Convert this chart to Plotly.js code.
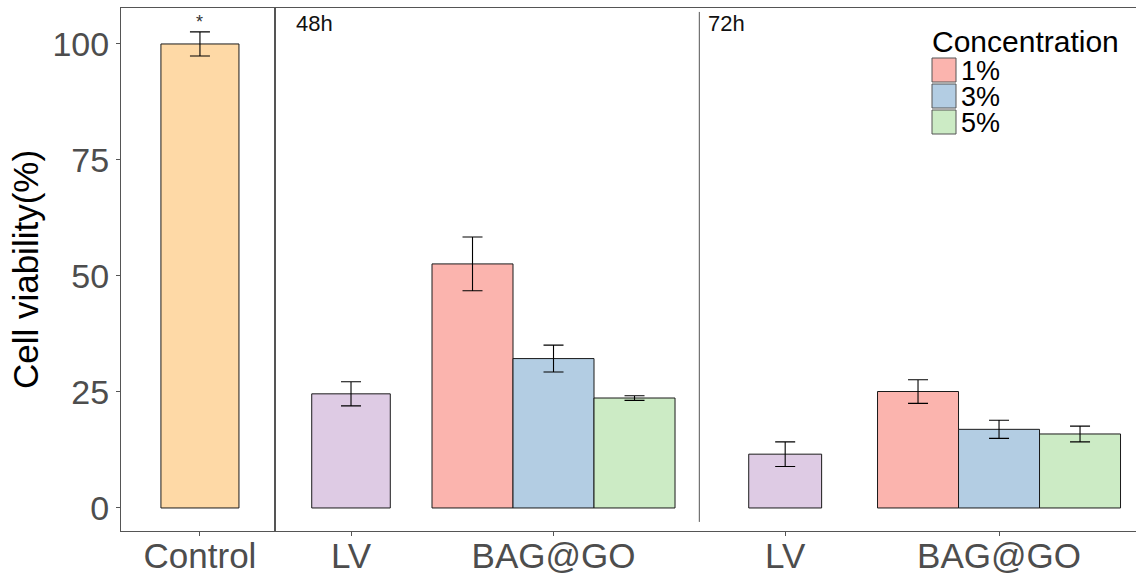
<!DOCTYPE html>
<html>
<head>
<meta charset="utf-8">
<script src="https://cdn.plot.ly/plotly-3.0.1.min.js"></script>
<style>html,body{margin:0;padding:0;background:#fff;}#chart{width:1136px;height:576px;}</style>
</head>
<body>
<div id="chart"></div>
<script>
// ---- data ----
const controlLabel = ['Control'];
const controlMean = [100];
const controlSD = [2.6];

const timeLabels = ['48h', '72h'];
const groupLabels = ['LV', 'BAG@GO', 'LV', 'BAG@GO'];

const lvMean = [24.6, 11.6];
const lvSD = [2.6, 2.65];

const concentrations = ['1%', '3%', '5%'];
const bagMean1 = [52.6, 25.1];
const bagSD1 = [5.8, 2.55];
const bagMean3 = [32.2, 16.95];
const bagSD3 = [2.9, 1.95];
const bagMean5 = [23.7, 15.95];
const bagSD5 = [0.5, 1.7];

const yTicks = [0, 25, 50, 75, 100];

// ---- layout constants (positions / styles) ----
const W = 1136, H = 576;
const L = 121, R = 0, T = 8, B = 45;
const PW = W - L - R, PH = H - T - B;
const px2paperX = p => (p - L) / PW;
const px2paperY = p => (H - B - p) / PH;

const lvPos = [0, 5.36];      // x positions of LV groups on panel-2 axis
const bagPos = [2.5, 8.0];    // x positions of BAG@GO groups
const concOffset = [-1, 0, 1];
const lvWidth = [0.97, 0.9];
const sepX = 4.3;

const colControl = '#FED9A6';
const colLV = '#DECBE4';
const concColors = ['#FBB4AE', '#B3CDE3', '#CCEBC5'];

const errStyle = (arr) => ({type: 'data', array: arr, visible: true, color: '#000', thickness: 1.1, width: 10});
const lineStyle = {color: '#1a1a1a', width: 1};
const FONT = 'Liberation Sans, Arial, sans-serif';

const traces = [];
traces.push({
  type: 'bar', x: controlLabel, y: controlMean, xaxis: 'x', yaxis: 'y',
  width: 0.51, marker: {color: colControl, line: lineStyle},
  error_y: errStyle(controlSD), showlegend: false, hoverinfo: 'skip'
});
traces.push({
  type: 'bar', x: lvPos, y: lvMean, xaxis: 'x2', yaxis: 'y2',
  width: lvWidth, marker: {color: colLV, line: lineStyle},
  error_y: errStyle(lvSD), showlegend: false, hoverinfo: 'skip'
});
const bagMeans = [bagMean1, bagMean3, bagMean5];
const bagSDs = [bagSD1, bagSD3, bagSD5];
concentrations.forEach((c, i) => {
  traces.push({
    type: 'bar', name: c, x: bagPos.map(p => p + concOffset[i]), y: bagMeans[i],
    xaxis: 'x2', yaxis: 'y2', width: 1,
    marker: {color: concColors[i], line: lineStyle},
    error_y: errStyle(bagSDs[i]), showlegend: false, hoverinfo: 'skip'
  });
});

const yRange = [-4.96, 107.75];
const axisLine = '#555';
const tickFontY = {family: FONT, size: 34, color: '#4D4D4D'};
const tickFontX = {family: FONT, size: 35, color: '#4D4D4D'};

// custom legend
const shapes = [];
const annotations = [];
const legLeft = 932, keyW = 24, keyH = 24, rowY = [70, 96, 122];
concentrations.forEach((c, i) => {
  shapes.push({type: 'rect', xref: 'paper', yref: 'paper',
    x0: px2paperX(legLeft), x1: px2paperX(legLeft + keyW),
    y0: px2paperY(rowY[i] + keyH / 2), y1: px2paperY(rowY[i] - keyH / 2),
    fillcolor: concColors[i], line: {color: '#555', width: 1}});
  annotations.push({xref: 'paper', yref: 'paper', x: px2paperX(legLeft + keyW + 3), y: px2paperY(rowY[i] + 1),
    text: c, showarrow: false, xanchor: 'left', yanchor: 'middle',
    font: {family: FONT, size: 27, color: '#000'}});
});
annotations.push({xref: 'paper', yref: 'paper', x: px2paperX(legLeft - 2), y: px2paperY(41),
  text: 'Concentration', showarrow: false, xanchor: 'left', yanchor: 'middle',
  font: {family: FONT, size: 30, color: '#000'}});

// separator line in panel 2
shapes.push({type: 'line', xref: 'x2', yref: 'y2', x0: sepX, x1: sepX, y0: -3, y1: 106.9,
  line: {color: '#555', width: 1}});

// time labels
annotations.push({xref: 'x2', yref: 'paper', x: -0.71, y: px2paperY(24), text: timeLabels[0],
  showarrow: false, xanchor: 'left', yanchor: 'middle',
  font: {family: FONT, size: 22, color: '#111'}});
annotations.push({xref: 'x2', yref: 'paper', x: sepX + 0.08, y: px2paperY(24), text: timeLabels[1],
  showarrow: false, xanchor: 'left', yanchor: 'middle',
  font: {family: FONT, size: 22, color: '#111'}});

// significance star
annotations.push({xref: 'x', yref: 'y', x: controlLabel[0], y: controlMean[0] + controlSD[0], text: '*',
  showarrow: false, xanchor: 'center', yanchor: 'bottom', yshift: -2,
  font: {family: FONT, size: 18, color: '#333'}});

const layout = {
  width: W, height: H,
  margin: {l: L, r: R, t: T, b: B},
  paper_bgcolor: '#fff', plot_bgcolor: '#fff',
  barmode: 'overlay',
  showlegend: false,
  xaxis: {domain: [0, px2paperX(274)], type: 'category', range: [-0.516, 0.484],
    showline: true, mirror: true, linecolor: axisLine, linewidth: 1,
    ticks: 'outside', ticklen: 4, tickcolor: axisLine, tickfont: tickFontX,
    ticklabelstandoff: -10,
    showgrid: false, zeroline: false},
  yaxis: {domain: [0, 1], range: yRange, tickvals: yTicks,
    showline: true, mirror: true, linecolor: axisLine, linewidth: 1,
    ticks: 'outside', ticklen: 4, tickcolor: axisLine, tickfont: tickFontY,
    ticklabelstandoff: 0,
    showgrid: false, zeroline: false,
    title: {text: 'Cell viability(%)', standoff: 3,
      font: {family: FONT, size: 35, color: '#000'}}},
  xaxis2: {domain: [px2paperX(276), 1], anchor: 'y2', range: [-0.926, 9.691],
    tickvals: lvPos.concat(bagPos).sort((a, b) => a - b), ticktext: groupLabels,
    showline: true, mirror: true, linecolor: axisLine, linewidth: 1,
    ticks: 'outside', ticklen: 4, tickcolor: axisLine, tickfont: tickFontX,
    ticklabelstandoff: -10,
    showgrid: false, zeroline: false},
  yaxis2: {anchor: 'x2', domain: [0, 1], range: yRange, showline: true, mirror: false,
    linecolor: axisLine, linewidth: 1, showticklabels: false, ticks: '',
    showgrid: false, zeroline: false},
  shapes: shapes,
  annotations: annotations
};

Plotly.newPlot('chart', traces, layout, {displayModeBar: false, staticPlot: true});
</script>
</body>
</html>
